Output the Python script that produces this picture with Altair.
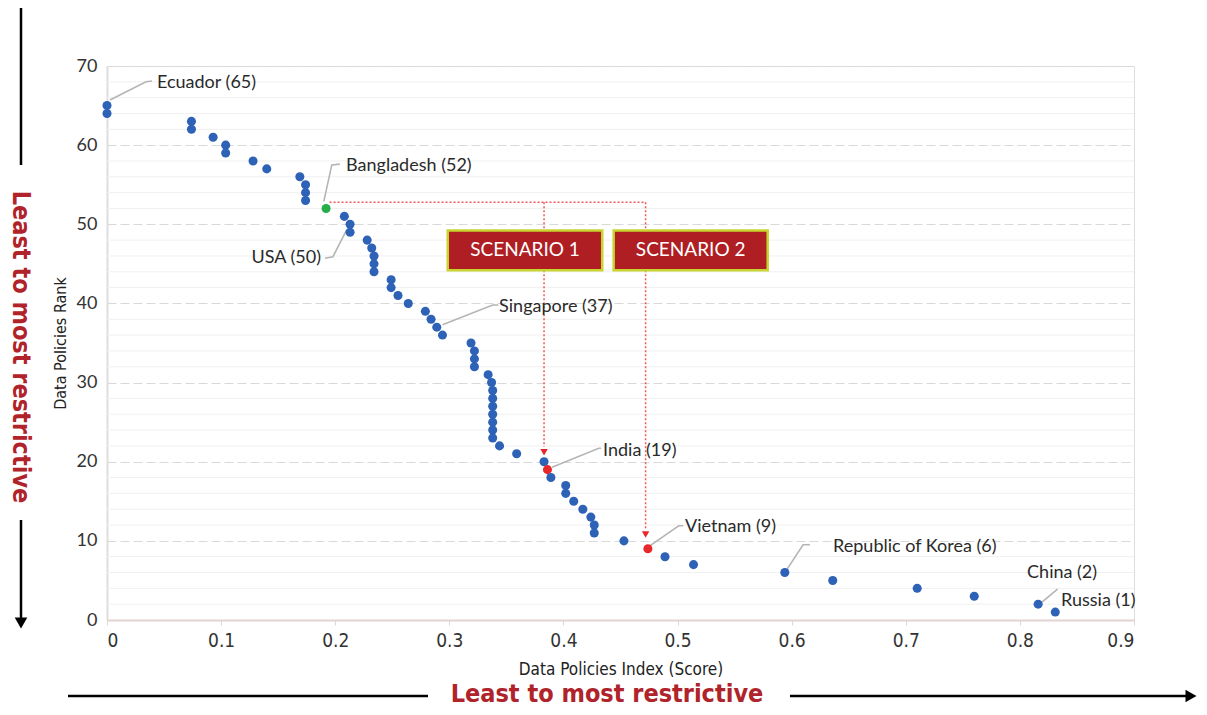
import altair as alt
import pandas as pd

# ---------------- data ----------------
ranks = list(range(65, 0, -1))
scores = [0.0, 0.0, 0.074, 0.074, 0.093, 0.104, 0.104, 0.128, 0.140, 0.169,
          0.174, 0.174, 0.174, 0.192, 0.208, 0.213, 0.213, 0.228, 0.232, 0.234,
          0.234, 0.234, 0.249, 0.249, 0.255, 0.264, 0.279, 0.284, 0.289, 0.294,
          0.319, 0.322, 0.322, 0.322, 0.334, 0.337, 0.338, 0.338, 0.338, 0.338,
          0.338, 0.338, 0.338, 0.344, 0.359, 0.383, 0.386, 0.389, 0.402, 0.402,
          0.409, 0.417, 0.424, 0.427, 0.427, 0.453, 0.474, 0.489, 0.514, 0.594,
          0.636, 0.710, 0.760, 0.816, 0.831]
highlight = {52: "Bangladesh", 19: "Scenario", 9: "Scenario"}

x_ticks = [0, 0.1, 0.2, 0.3, 0.4, 0.5, 0.6, 0.7, 0.8, 0.9]
y_ticks = [0, 10, 20, 30, 40, 50, 60, 70]
minor_y = [2, 4, 6, 8, 12, 14, 16, 18, 22, 24, 26, 28, 32, 34, 36, 38,
           42, 44, 46, 48, 52, 54, 56, 58, 62, 64, 66, 68]

# labels (left aligned) and their anchor positions
lab_text = ["Ecuador (65)", "Bangladesh (52)", "Singapore (37)", "India (19)",
            "Vietnam (9)", "Republic of Korea (6)", "China (2)", "Russia (1)"]
lab_x = [0.0438, 0.2095, 0.3436, 0.4347, 0.5066, 0.6363, 0.8063, 0.8361]
lab_y = [67.85, 57.37, 39.55, 21.35, 11.75, 9.22, 5.94, 2.40]
usa_text = ["USA (50)"]
usa_x = [0.1876]
usa_y = [45.74]

# leader lines (polylines)
lead_name = ["Ecuador"] * 3 + ["Bangladesh"] * 3 + ["USA"] * 3 + ["Singapore"] * 3 + \
            ["India"] * 3 + ["Vietnam"] * 3 + ["Korea"] * 3 + ["China"] * 2
lead_x = [0.0026, 0.0342, 0.0394, 0.190, 0.197, 0.204, 0.210, 0.198, 0.191,
          0.294, 0.338, 0.343, 0.390, 0.431, 0.433, 0.476, 0.501, 0.505,
          0.595, 0.610, 0.616, 0.818, 0.833]
lead_y = [65.7, 68.0, 68.1, 52.9, 57.5, 57.6, 49.3, 45.9, 45.7,
          37.3, 39.8, 39.8, 19.3, 21.7, 21.7, 9.4, 11.9, 11.9,
          6.2, 9.5, 9.5, 2.1, 3.9]

# scenario annotations
scen_h_x = [0.195]
scen_h_x2 = [0.472]
scen_level = [52.8]
scen_v_x = [0.383, 0.472]
scen_v_end = [21.9, 11.4]
scen_arrow_y = [21.2, 10.8]
box_text = ["SCENARIO 1", "SCENARIO 2"]
box_x = [0.2986, 0.444]
box_x2 = [0.434, 0.579]
box_y = [44.2, 44.2]
box_y2 = [49.2, 49.2]

# ---------------- frames ----------------
df = pd.DataFrame({"rank": ranks, "score": scores})
df["grp"] = [highlight.get(r, "Other") for r in ranks]

W, H = 1027, 554
xs = alt.Scale(domain=[0, 0.9], nice=False, zero=False)
ys = alt.Scale(domain=[0, 70], nice=False)

BLUE, GREEN, RED = "#2D62B7", "#27AE4A", "#E8272B"
LABEL_FONT = "Lato"
COND_FONT = "Liberation Sans Narrow, DejaVu Sans Condensed, sans-serif"

minor = alt.Chart(pd.DataFrame({"v": minor_y})).mark_rule(
    color="#f0f0f0", strokeWidth=1
).encode(y=alt.Y("v:Q", scale=ys))

points = alt.Chart(df).mark_circle(size=82, opacity=1).encode(
    x=alt.X("score:Q", scale=xs,
            axis=alt.Axis(values=x_ticks, format="~g", title="Data Policies Index (Score)",
                          grid=False, domainColor="#e3d3d3", domainWidth=2,
                          tickColor="#d8d8d8", tickSize=5,
                          labelFont=COND_FONT, labelFontSize=19, labelColor="#333",
                          labelPadding=6, titleFont=COND_FONT, titleFontSize=17,
                          titleFontWeight="normal", titleColor="#222", titlePadding=11)),
    y=alt.Y("rank:Q", scale=ys,
            axis=alt.Axis(values=y_ticks, title="Data Policies Rank",
                          grid=True, gridDash=[9, 4], gridColor="#d9d9d9",
                          domainColor="#dddddd", domainWidth=2, ticks=False,
                          labelFont=LABEL_FONT, labelFontSize=18, labelColor="#333",
                          labelPadding=10, titleFont=COND_FONT, titleFontSize=16,
                          titleFontWeight="normal", titleColor="#222", titlePadding=8)),
    color=alt.Color("grp:N", scale=alt.Scale(domain=["Other", "Bangladesh", "Scenario"],
                                               range=[BLUE, GREEN, RED]), legend=None),
    order=alt.Order("score:Q"),
)

h_line = alt.Chart(pd.DataFrame({"x": scen_h_x, "x2": scen_h_x2, "y": scen_level})).mark_rule(
    color="#F0595C", strokeDash=[2, 2], strokeWidth=1.5
).encode(x=alt.X("x:Q", scale=xs), x2="x2:Q", y=alt.Y("y:Q", scale=ys))

v_line = alt.Chart(pd.DataFrame({"x": scen_v_x, "y": scen_level * 2, "y2": scen_v_end})).mark_rule(
    color="#F0595C", strokeDash=[2, 2], strokeWidth=1.5
).encode(x=alt.X("x:Q", scale=xs), y=alt.Y("y:Q", scale=ys), y2="y2:Q")

arrows = alt.Chart(pd.DataFrame({"x": scen_v_x, "y": scen_arrow_y})).mark_point(
    shape="triangle-down", filled=True, size=55, color=RED, opacity=1
).encode(x=alt.X("x:Q", scale=xs), y=alt.Y("y:Q", scale=ys))

boxes_df = pd.DataFrame({"t": box_text, "x": box_x, "x2": box_x2, "y": box_y, "y2": box_y2})
boxes = alt.Chart(boxes_df).mark_rect(
    fill="#AE1E23", stroke="#C8D530", strokeWidth=2.5
).encode(x=alt.X("x:Q", scale=xs), x2="x2:Q", y=alt.Y("y:Q", scale=ys), y2="y2:Q")
box_lbl = alt.Chart(boxes_df).transform_calculate(
    cx="(datum.x + datum.x2) / 2", cy="(datum.y + datum.y2) / 2"
).mark_text(color="white", font=LABEL_FONT, fontSize=19, align="center", baseline="middle").encode(
    x=alt.X("cx:Q", scale=xs), y=alt.Y("cy:Q", scale=ys), text="t:N")

lead_df = pd.DataFrame({"n": lead_name, "x": lead_x, "y": lead_y, "i": list(range(len(lead_x)))})
leaders = alt.Chart(lead_df).mark_line(color="#b5b5b5", strokeWidth=1.6).encode(
    x=alt.X("x:Q", scale=xs), y=alt.Y("y:Q", scale=ys), detail="n:N", order="i:Q")

labels = alt.Chart(pd.DataFrame({"t": lab_text, "x": lab_x, "y": lab_y})).mark_text(
    align="left", baseline="middle", font=LABEL_FONT, fontSize=18, color="#2a2a2a"
).encode(x=alt.X("x:Q", scale=xs), y=alt.Y("y:Q", scale=ys), text="t:N")
usa = alt.Chart(pd.DataFrame({"t": usa_text, "x": usa_x, "y": usa_y})).mark_text(
    align="right", baseline="middle", font=LABEL_FONT, fontSize=18, color="#2a2a2a"
).encode(x=alt.X("x:Q", scale=xs), y=alt.Y("y:Q", scale=ys), text="t:N")

# outside "Least to most restrictive" arrows
one = pd.DataFrame({"t": ["Least to most restrictive"]})
DARKRED = "#B0232A"
v_text = alt.Chart(one).mark_text(angle=90, font=COND_FONT, fontSize=25, fontWeight="bold",
                                  color=DARKRED, align="center", baseline="middle").encode(
    x=alt.value(-86), y=alt.value(281), text="t:N")
h_text = alt.Chart(one).mark_text(font=COND_FONT, fontSize=25, fontWeight="bold",
                                  color=DARKRED, align="center", baseline="middle").encode(
    x=alt.value(500), y=alt.value(628), text="t:N")
v_rule1 = alt.Chart(one).mark_rule(color="black", strokeWidth=2.5).encode(
    x=alt.value(-86), y=alt.value(-58), y2=alt.value(99))
v_rule2 = alt.Chart(one).mark_rule(color="black", strokeWidth=2.5).encode(
    x=alt.value(-86), y=alt.value(454), y2=alt.value(555))
v_head = alt.Chart(one).mark_point(shape="triangle-down", filled=True, size=160,
                                   color="black", opacity=1).encode(
    x=alt.value(-86), y=alt.value(557))
h_rule1 = alt.Chart(one).mark_rule(color="black", strokeWidth=2.5).encode(
    x=alt.value(-39), x2=alt.value(321), y=alt.value(630))
h_rule2 = alt.Chart(one).mark_rule(color="black", strokeWidth=2.5).encode(
    x=alt.value(683), x2=alt.value(1082), y=alt.value(630))
h_head = alt.Chart(one).mark_point(shape="triangle-right", filled=True, size=160,
                                   color="black", opacity=1).encode(
    x=alt.value(1084), y=alt.value(630))

chart = alt.layer(
    minor, h_line, v_line, boxes, box_lbl, leaders, points, arrows, labels, usa,
    v_text, h_text, v_rule1, v_rule2, v_head, h_rule1, h_rule2, h_head
).properties(
    width=W, height=H,
    autosize=alt.AutoSizeParams(type="none"),
    padding={"left": 99, "top": 58, "right": 65, "bottom": 87},
).configure_view(stroke="transparent", strokeWidth=0).configure(background="white")

chart.save("out.html", embed_options={"renderer": "svg", "actions": False})
